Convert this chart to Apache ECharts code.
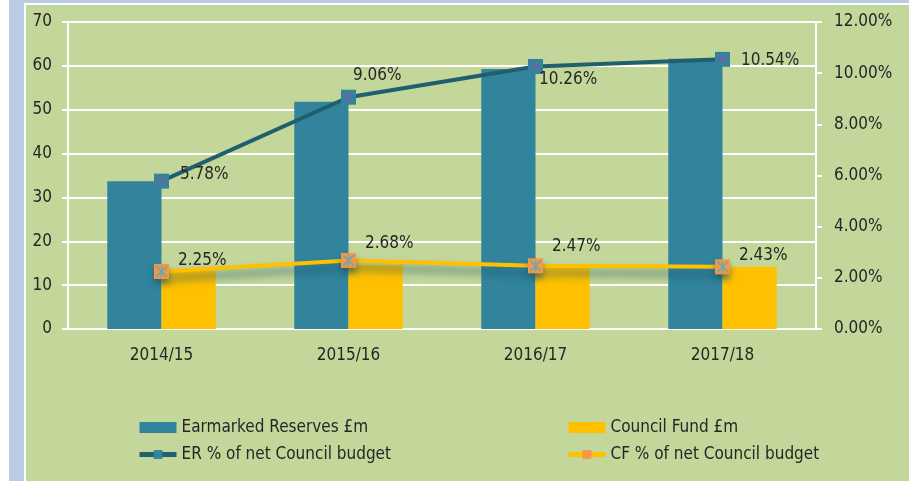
<!DOCTYPE html>
<html>
<head>
<meta charset="utf-8">
<script src="https://cdn.jsdelivr.net/npm/echarts@6/dist/echarts.min.js"></script>
<style>
html, body { margin: 0; padding: 0; background: #fff; }
#chart { width: 909px; height: 481px; }
</style>
</head>
<body>
<div id="chart"></div>
<script>
var years = ['2014/15', '2015/16', '2016/17', '2017/18'];
var erReserves = [33.7, 51.8, 59.3, 61.6];
var cfFund = [13.2, 14.6, 13.9, 14.2];
var erPct = [5.78, 9.06, 10.26, 10.54];
var cfPct = [2.25, 2.68, 2.47, 2.43];

// label offsets for the percentage labels (style only)
var erLabelOffset = [[6, -7], [-8, -22], [-9, 13], [6, 1]];
var cfLabelOffset = [[4, -11], [4, -17], [4, -19], [4, -11]];

var fontFam = "'DejaVu Sans Condensed', 'Liberation Sans Narrow', sans-serif";
var txt = '#262626';

var crossPath = 'path://M1,0 L5,4 L9,0 L10,1 L6,5 L10,9 L9,10 L5,6 L1,10 L0,9 L4,5 L0,1 Z';
var starPath = 'path://M1,0 L5,4 L9,0 L10,1 L6,5 L10,9 L9,10 L5,6 L1,10 L0,9 L4,5 L0,1 Z M4.4,0 L5.6,0 L5.6,10 L4.4,10 Z';

function pctData(vals, offs) {
    return vals.map(function (v, i) {
        return { value: v, label: { offset: offs[i] } };
    });
}

var chartDom = document.getElementById('chart');
var myChart = echarts.init(chartDom);
var option;

var legendBase = {
    top: 419,
    orient: 'vertical',
    padding: 0,
    itemWidth: 37,
    itemHeight: 11,
    itemGap: 10,
    lineStyle: { width: 5 },
    textStyle: { fontSize: 17, color: txt, fontFamily: fontFam }
};

option = {
    backgroundColor: '#ffffff',
    textStyle: { fontFamily: fontFam },
    animation: false,
    graphic: [
        { type: 'rect', shape: { x: 9, y: 0, width: 900, height: 3 }, style: { fill: '#b8cce4' }, z: -10 },
        { type: 'rect', shape: { x: 9, y: 0, width: 15, height: 481 }, style: { fill: '#b8cce4' }, z: -10 },
        { type: 'rect', shape: { x: 26, y: 5, width: 883, height: 476 }, style: { fill: '#c4d79b' }, z: -10 }
    ],
    grid: {
        left: 68,
        right: 93,
        top: 22,
        bottom: 152
    },
    legend: [
        Object.assign({}, legendBase, {
            left: 137,
            data: [
                { name: 'Earmarked Reserves £m', icon: 'rect' },
                'ER % of net Council budget'
            ]
        }),
        Object.assign({}, legendBase, {
            left: 566,
            data: [
                { name: 'Council Fund £m', icon: 'rect' },
                'CF % of net Council budget'
            ]
        })
    ],
    xAxis: {
        type: 'category',
        data: years,
        axisLine: { lineStyle: { color: '#ffffff', width: 2 } },
        axisTick: { lineStyle: { color: '#ffffff', width: 2 }, length: 6 },
        axisLabel: { color: txt, fontSize: 17, margin: 18 }
    },
    yAxis: [
        {
            type: 'value',
            min: 0,
            max: 70,
            interval: 10,
            axisLine: { show: true, lineStyle: { color: '#ffffff', width: 2 } },
            axisTick: { show: true, lineStyle: { color: '#ffffff', width: 2 }, length: 6 },
            splitLine: { lineStyle: { color: '#ffffff', width: 2 } },
            axisLabel: { color: txt, fontSize: 17, margin: 16 }
        },
        {
            type: 'value',
            min: 0,
            max: 12,
            interval: 2,
            position: 'right',
            axisLine: { show: true, lineStyle: { color: '#ffffff', width: 2 } },
            axisTick: { show: true, lineStyle: { color: '#ffffff', width: 2 }, length: 6 },
            splitLine: { show: false },
            axisLabel: {
                color: txt,
                fontSize: 17,
                margin: 18,
                formatter: function (v) { return v.toFixed(2) + '%'; }
            }
        }
    ],
    series: [
        {
            name: 'Earmarked Reserves £m',
            type: 'bar',
            data: erReserves,
            barGap: 0,
            barCategoryGap: '42%',
            itemStyle: { color: '#31849b' }
        },
        {
            name: 'Council Fund £m',
            type: 'bar',
            data: cfFund,
            itemStyle: { color: '#ffc000' }
        },
        {
            name: 'ER % of net Council budget',
            type: 'line',
            yAxisIndex: 1,
            data: pctData(erPct, erLabelOffset),
            symbol: 'rect',
            symbolSize: 15,
            lineStyle: { color: '#215f6e', width: 4 },
            itemStyle: { color: '#31849b' },
            label: {
                show: true,
                position: 'right',
                color: txt,
                fontSize: 17,
                formatter: function (p) { return p.value.toFixed(2) + '%'; }
            },
            z: 5
        },
        {
            name: 'CF % of net Council budget',
            type: 'line',
            yAxisIndex: 1,
            data: pctData(cfPct, cfLabelOffset),
            symbol: 'rect',
            symbolSize: 15,
            lineStyle: {
                color: '#ffc000',
                width: 4,
                shadowColor: 'rgba(30,85,100,0.75)',
                shadowBlur: 8,
                shadowOffsetY: 7
            },
            itemStyle: {
                color: '#f79646',
                shadowColor: 'rgba(30,85,100,0.6)',
                shadowBlur: 6,
                shadowOffsetY: 5
            },
            label: {
                show: true,
                position: 'right',
                color: txt,
                fontSize: 17,
                formatter: function (p) { return p.value.toFixed(2) + '%'; }
            },
            z: 5
        },
        {
            name: 'erMark',
            type: 'scatter',
            yAxisIndex: 1,
            data: erPct,
            symbol: crossPath,
            symbolSize: 12,
            itemStyle: { color: '#7d5fa5' },
            silent: true,
            z: 6
        },
        {
            name: 'cfMark',
            type: 'scatter',
            yAxisIndex: 1,
            data: cfPct,
            symbol: starPath,
            symbolSize: 12,
            itemStyle: { color: '#4bacc6' },
            silent: true,
            z: 6
        }
    ]
};
option && myChart.setOption(option);
</script>
</body>
</html>
